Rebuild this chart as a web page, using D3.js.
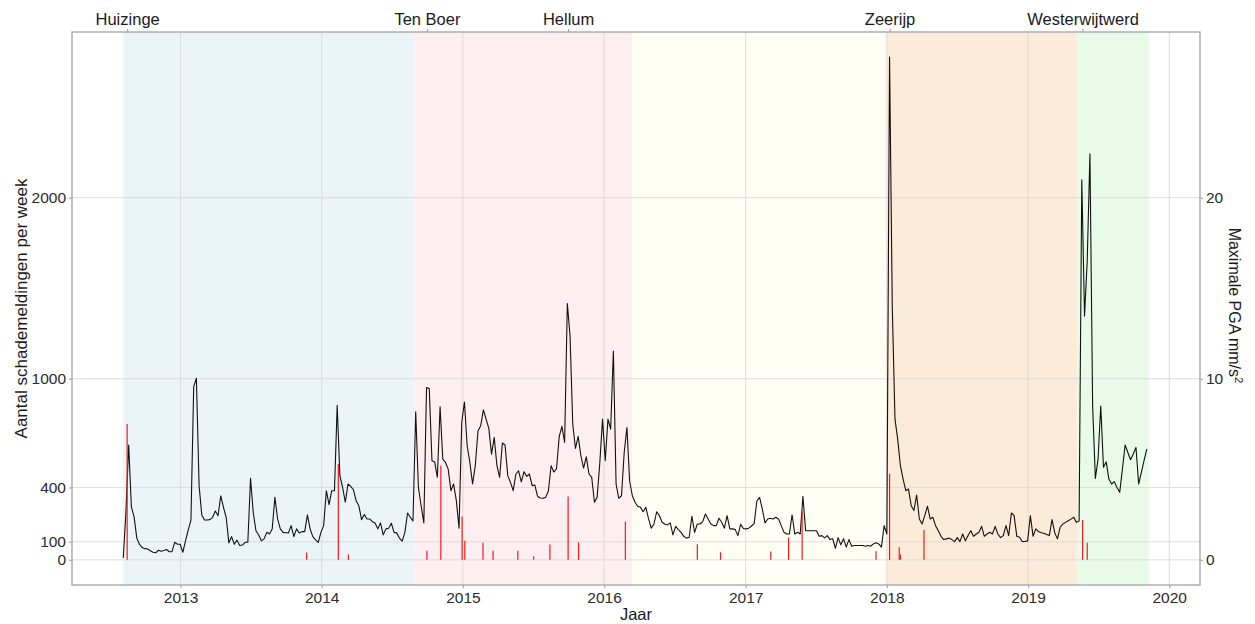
<!DOCTYPE html>
<html>
<head>
<meta charset="utf-8">
<script src="https://cdn.jsdelivr.net/npm/d3@7"></script>
<style>
  body { margin: 0; background: #fff; }
  text { font-family: "Liberation Sans", Arial, sans-serif; }
</style>
</head>
<body>
<div id="chart"></div>
<script>
///////////////////////////////////////////////////////////// DATA /////////////////////////////////////////////////////////////
// schademeldingen per week, eerste week begint op maandag 6 aug 2012
var eersteWeek = "2012-08-06";
var meldingen = [
  10, 270, 634, 292, 237, 120, 85, 68, 62, 60, 50, 42, 39, 53, 48, 52, 57, 45, 45, 97,
  86, 86, 42, 106, 165, 220, 955, 1003, 409, 248, 220, 220, 222, 235, 270, 244, 354, 290, 235, 94,
  128, 86, 109, 79, 82, 97, 97, 450, 262, 161, 137, 105, 116, 152, 143, 171, 345, 226, 171, 152,
  150, 148, 189, 128, 171, 148, 156, 156, 248, 171, 128, 110, 97, 152, 189, 382, 305, 382, 382, 854,
  465, 400, 318, 419, 406, 387, 327, 299, 222, 250, 226, 226, 211, 204, 171, 204, 138, 171, 175, 202,
  152, 149, 120, 103, 152, 259, 235, 215, 817, 400, 299, 204, 951, 946, 547, 541, 456, 845, 556, 538,
  501, 382, 419, 327, 175, 759, 872, 630, 538, 419, 520, 712, 740, 828, 777, 726, 584, 676, 520, 456,
  645, 634, 465, 428, 382, 474, 492, 431, 487, 461, 474, 410, 413, 351, 342, 340, 345, 380, 520, 485,
  503, 680, 737, 648, 1416, 1236, 749, 615, 682, 575, 507, 569, 474, 456, 318, 345, 538, 777, 547, 777,
  722, 1153, 419, 340, 354, 593, 731, 437, 354, 318, 296, 290, 266, 290, 226, 175, 198, 266, 244, 208,
  198, 193, 204, 138, 185, 167, 152, 130, 120, 125, 241, 152, 198, 198, 211, 253, 226, 198, 189, 189,
  230, 208, 175, 244, 171, 171, 167, 134, 196, 173, 171, 175, 187, 200, 325, 345, 281, 204, 226, 230,
  226, 235, 226, 189, 152, 143, 143, 248, 143, 152, 143, 351, 161, 161, 161, 161, 161, 130, 134, 121,
  134, 112, 117, 64, 123, 83, 117, 70, 112, 75, 79, 79, 79, 79, 75, 79, 75, 88, 94, 88,
  70, 189, 143, 2776, 1400, 777, 667, 520, 446, 382, 391, 299, 272, 358, 226, 198, 244, 296, 226, 235,
  189, 161, 130, 112, 116, 120, 112, 101, 123, 101, 143, 105, 134, 161, 130, 143, 152, 185, 130, 143,
  152, 143, 185, 143, 123, 134, 189, 134, 259, 244, 130, 125, 101, 101, 105, 244, 130, 171, 156, 150,
  147, 140, 134, 222, 150, 116, 180, 198, 207, 216, 225, 235, 207, 215, 2099, 1346, 1650, 2242, 850, 450,
  556, 850, 511, 541, 446, 419, 432, 400, 373, 501, 634, 593, 553, 585, 621, 419, 483, 550, 612
];

// maximale PGA per beving (mm/s^2)
var pgaDatum = ["2012-08-16", "2013-11-23", "2014-02-13", "2014-03-11", "2014-09-30", "2014-11-05",
  "2014-12-30", "2015-01-06", "2015-02-22", "2015-03-20", "2015-05-23", "2015-07-03", "2015-08-14",
  "2015-09-30", "2015-10-27", "2016-02-25", "2016-08-29", "2016-10-28", "2017-03-07", "2017-04-22",
  "2017-05-27", "2017-12-04", "2018-01-08", "2018-02-02", "2018-02-05", "2018-04-07", "2019-05-22", "2019-06-03"];
var pgaWaarde = [7.5, 0.4, 5.3, 0.3, 0.5, 5.2,
  2.4, 1.05, 0.95, 0.5, 0.5, 0.2, 0.85,
  3.5, 0.97, 2.1, 0.86, 0.42, 0.46, 1.25,
  2.7, 0.48, 4.75, 0.7, 0.3, 1.65, 2.2, 0.94];

// bevingen bovenaan
var bevingNaam = ["Huizinge", "Ten Boer", "Hellum", "Zeerijp", "Westerwijtwerd"];
var bevingDatum = ["2012-08-16", "2014-09-30", "2015-09-30", "2018-01-08", "2019-05-22"];

// perioden (achtergrond)
var periodeStart = ["2012-08-06", "2014-08-29", "2016-03-13", "2017-12-31", "2019-05-09"];
var periodeEind  = ["2014-08-29", "2016-03-13", "2017-12-31", "2019-05-09", "2019-11-09"];

var linksTicks = [0, 100, 400, 1000, 2000];
var rechtsTicks = [0, 10, 20];
var jaarTicks = [2013, 2014, 2015, 2016, 2017, 2018, 2019, 2020];

///////////////////////////////////////////////////////////// STYLE /////////////////////////////////////////////////////////////
var periodeKleur = ["#ebf4f9", "#fdeef1", "#fffef5", "#fcebd9", "#e8fbe8"];
var w = 1255, h = 624;
var panel = {left: 72, right: 1200, top: 32, bottom: 585};
var rand = "#a9a9a9", grid = "#d9d9d9", tekst = "#2b2b2b";

///////////////////////////////////////////////////////////// SCRIPT /////////////////////////////////////////////////////////////
var parse = d3.timeParse("%Y-%m-%d");
var start = parse(eersteWeek);
var reeks = meldingen.map(function(v, i) { return {datum: d3.timeDay.offset(start, i * 7), n: v}; });
var pga = pgaDatum.map(function(d, i) { return {datum: parse(d), v: pgaWaarde[i]}; });
var perioden = periodeStart.map(function(d, i) { return {van: parse(d), tot: parse(periodeEind[i]), kleur: periodeKleur[i]}; });

// ggplot-achtige 5% marge
var tMin = d3.min(perioden, function(p) { return p.van; });
var tMax = d3.max(perioden, function(p) { return p.tot; });
var tPad = (tMax - tMin) * 0.05;
var x = d3.scaleTime()
  .domain([new Date(+tMin - tPad), new Date(+tMax + tPad)])
  .range([panel.left, panel.right]);

var nMax = d3.max(meldingen);
var y = d3.scaleLinear()
  .domain([-0.05 * nMax, nMax * 1.05])
  .range([panel.bottom, panel.top]);
var yPga = d3.scaleLinear()
  .domain(y.domain().map(function(d) { return d / 100; }))
  .range([panel.bottom, panel.top]);

var svg = d3.select("#chart").append("svg")
  .attr("width", w).attr("height", h);

// achtergrondperioden
svg.append("g").selectAll("rect")
  .data(perioden).enter().append("rect")
  .attr("x", function(p) { return x(p.van); })
  .attr("y", panel.top)
  .attr("width", function(p) { return x(p.tot) - x(p.van); })
  .attr("height", panel.bottom - panel.top)
  .attr("fill", function(p) { return p.kleur; });

// rasterlijnen
var jaren = jaarTicks.map(function(j) { return new Date(j, 0, 1); });
svg.append("g").selectAll("line.v")
  .data(jaren).enter().append("line")
  .attr("x1", function(d) { return x(d); }).attr("x2", function(d) { return x(d); })
  .attr("y1", panel.top).attr("y2", panel.bottom)
  .attr("stroke", grid).attr("stroke-opacity", 0.9).attr("stroke-width", 1);
svg.append("g").selectAll("line.h")
  .data(linksTicks).enter().append("line")
  .attr("x1", panel.left).attr("x2", panel.right)
  .attr("y1", function(d) { return y(d); }).attr("y2", function(d) { return y(d); })
  .attr("stroke", grid).attr("stroke-opacity", 0.9).attr("stroke-width", 1);

// lijn schademeldingen
var lijn = d3.line()
  .x(function(d) { return x(d.datum); })
  .y(function(d) { return y(d.n); });
svg.append("path")
  .datum(reeks)
  .attr("d", lijn)
  .attr("fill", "none")
  .attr("stroke", "#111")
  .attr("stroke-width", 1.1)
  .attr("stroke-linejoin", "round");

// PGA staafjes
svg.append("g").selectAll("line")
  .data(pga).enter().append("line")
  .attr("x1", function(d) { return x(d.datum); }).attr("x2", function(d) { return x(d.datum); })
  .attr("y1", yPga(0)).attr("y2", function(d) { return yPga(d.v); })
  .attr("stroke", "#f01a1a").attr("stroke-width", 1.2);

// paneelrand
svg.append("rect")
  .attr("x", panel.left).attr("y", panel.top)
  .attr("width", panel.right - panel.left).attr("height", panel.bottom - panel.top)
  .attr("fill", "none").attr("stroke", rand).attr("stroke-width", 1.4);

// assen
function stijl(size) {
  return function(g) {
    g.select(".domain").remove();
    g.selectAll(".tick line").attr("stroke", rand).attr("stroke-width", 1.2);
    g.selectAll(".tick text").attr("fill", tekst).style("font-size", size)
      .style("font-family", "'Liberation Sans', Arial, sans-serif");
  };
}

svg.append("g")
  .attr("transform", "translate(0," + panel.bottom + ")")
  .call(d3.axisBottom(x).tickValues(jaren).tickFormat(d3.timeFormat("%Y")).tickSize(3).tickPadding(4))
  .call(stijl("15.5px"));

svg.append("g")
  .attr("transform", "translate(" + panel.left + ",0)")
  .call(d3.axisLeft(y).tickValues(linksTicks).tickFormat(d3.format("d")).tickSize(3).tickPadding(3))
  .call(stijl("15.5px"));

svg.append("g")
  .attr("transform", "translate(" + panel.right + ",0)")
  .call(d3.axisRight(yPga).tickValues(rechtsTicks).tickFormat(d3.format("d")).tickSize(3).tickPadding(3))
  .call(stijl("15.5px"));

var boven = svg.append("g")
  .attr("transform", "translate(0," + panel.top + ")")
  .call(d3.axisTop(x).tickValues(bevingDatum.map(parse))
    .tickFormat(function(d, i) { return bevingNaam[i]; }).tickSize(3).tickPadding(4))
  .call(stijl("16.5px"));
boven.selectAll(".tick text").attr("fill", "#1a1a1a");

// astitels
svg.append("text")
  .attr("x", (panel.left + panel.right) / 2).attr("y", 620)
  .attr("text-anchor", "middle").style("font-size", "16.5px").attr("fill", "#1a1a1a")
  .text("Jaar");

svg.append("text")
  .attr("transform", "translate(27," + (panel.top + panel.bottom) / 2 + ") rotate(-90)")
  .attr("text-anchor", "middle").style("font-size", "17px").attr("fill", "#1a1a1a")
  .text("Aantal schademeldingen per week");

var rt = svg.append("text")
  .attr("transform", "translate(1229," + ((panel.top + panel.bottom) / 2 - 3) + ") rotate(90)")
  .attr("text-anchor", "middle").style("font-size", "16px").attr("fill", "#1a1a1a");
rt.append("tspan").text("Maximale PGA mm/s");
rt.append("tspan").attr("dy", -6).style("font-size", "11.5px").text("2");
</script>
</body>
</html>
